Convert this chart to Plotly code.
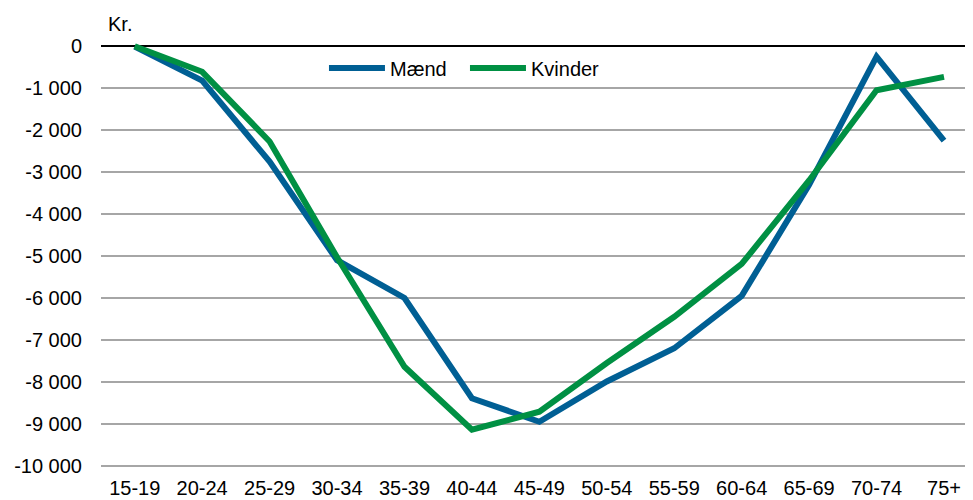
import plotly.graph_objects as go

categories = ["15-19", "20-24", "25-29", "30-34", "35-39", "40-44", "45-49",
              "50-54", "55-59", "60-64", "65-69", "70-74", "75+"]
maend = [-10, -820, -2750, -5100, -6000, -8390, -8950, -7990, -7200, -5950, -3300, -250, -2250]
kvinder = [0, -610, -2270, -5030, -7640, -9140, -8710, -7550, -6450, -5190, -3200, -1050, -730]
y_ticks = [0, -1000, -2000, -3000, -4000, -5000, -6000, -7000, -8000, -9000, -10000]
y_tick_labels = ["0", "-1 000", "-2 000", "-3 000", "-4 000", "-5 000", "-6 000",
                 "-7 000", "-8 000", "-9 000", "-10 000"]

BLUE = "#005F94"
GREEN = "#009043"
FONT = "Liberation Sans, Arial, sans-serif"

fig = go.Figure()
fig.add_trace(go.Scatter(x=list(range(len(categories))), y=maend, mode="lines", name="Mænd",
                         line=dict(color=BLUE, width=6)))
fig.add_trace(go.Scatter(x=list(range(len(categories))), y=kvinder, mode="lines", name="Kvinder",
                         line=dict(color=GREEN, width=6)))

fig.update_layout(
    width=965, height=492,
    margin=dict(l=93, r=0, t=34, b=30, autoexpand=False),
    paper_bgcolor="white", plot_bgcolor="white",
    font=dict(family=FONT, size=20, color="black"),
    showlegend=True,
    legend=dict(orientation="h", x=0.2557, y=0.939, xanchor="left", yanchor="middle",
                bgcolor="rgba(0,0,0,0)", font=dict(size=20), itemwidth=56,
                entrywidth=70, entrywidthmode="pixels", tracegroupgap=0),
    xaxis=dict(tickmode="array", tickvals=list(range(len(categories))), ticktext=categories,
               range=[-0.5, 12.43], showgrid=False, zeroline=False, showline=False,
               ticks="", tickfont=dict(size=20), ticklabelstandoff=4, automargin=False),
    yaxis=dict(tickmode="array", tickvals=y_ticks, ticktext=y_tick_labels,
               range=[-10100, 100], showgrid=True, gridcolor="#A6A6A6", gridwidth=1.5,
               zeroline=True, zerolinecolor="black", zerolinewidth=2,
               showline=False, ticks="", tickfont=dict(size=20), ticklabelstandoff=18,
               automargin=False),
    annotations=[dict(text="Kr.", xref="paper", yref="paper", x=0.0, y=1.0,
                      xanchor="left", yanchor="bottom", showarrow=False, xshift=5, yshift=5,
                      font=dict(size=20))],
)

fig.write_html("out.html")
